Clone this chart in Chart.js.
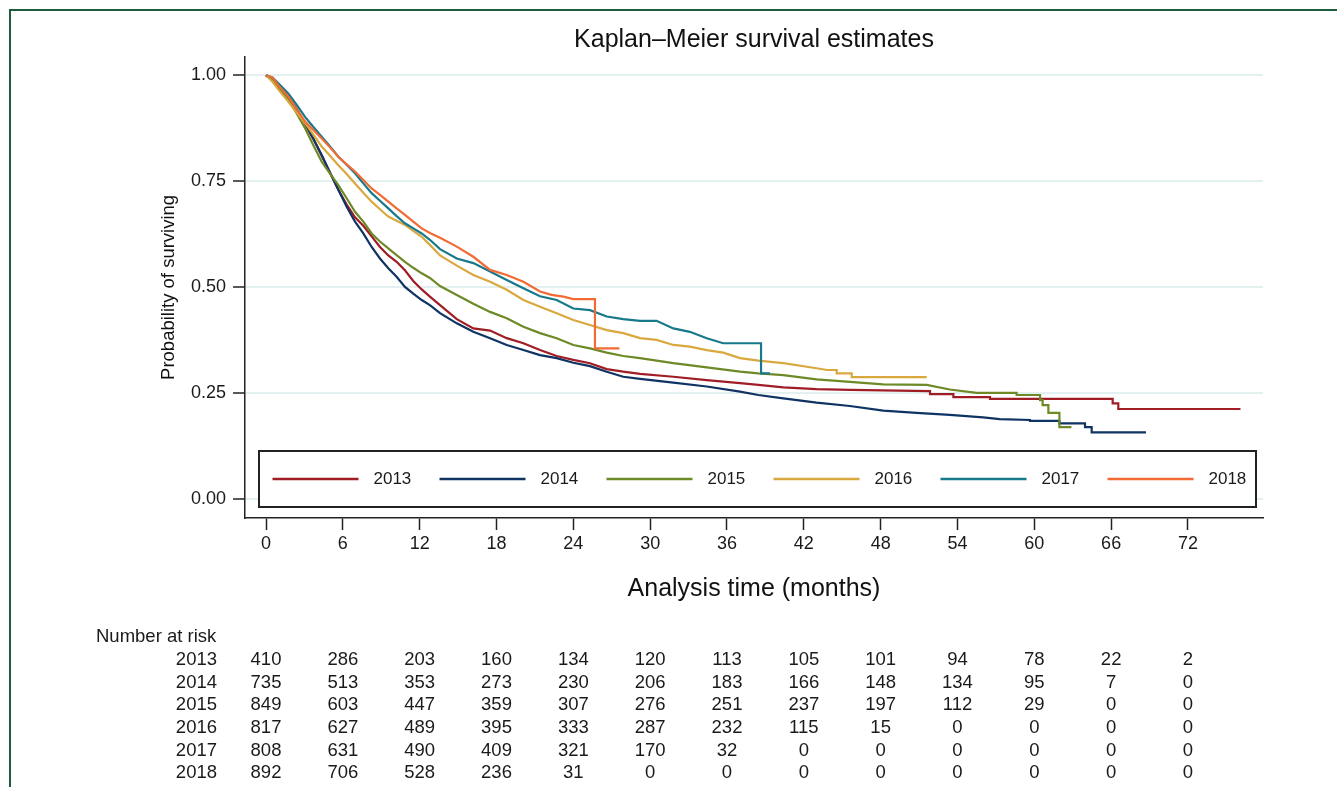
<!DOCTYPE html>
<html>
<head>
<meta charset="utf-8">
<script src="https://cdn.jsdelivr.net/npm/chart.js@4.4.1/dist/chart.umd.min.js"></script>
<style>
html,body{margin:0;padding:0;background:#fff;}
#wrap{position:relative;width:1337px;height:787px;overflow:hidden;}
#frame{position:absolute;left:9px;top:9px;width:1340px;height:800px;border-top:2px solid #1d5c3c;border-left:2px solid #1d5c3c;pointer-events:none;}
canvas{position:absolute;left:0;top:0;}
</style>
</head>
<body>
<div id="wrap"><canvas id="c" width="1337" height="787"></canvas><div id="frame"></div></div>
<script>
// ---- data ----
const years = ['2013', '2014', '2015', '2016', '2017', '2018'];
const xTicks = [0, 6, 12, 18, 24, 30, 36, 42, 48, 54, 60, 66, 72];
const yTicks = [0, 0.25, 0.5, 0.75, 1];

const km2013 = [[0,1],[0.5,0.99],[1,0.975],[1.74,0.95],[2.4,0.92],[3.05,0.885],[3.7,0.85],[4.35,0.81],[5,0.77],[5.65,0.73],[6.3,0.695],[6.95,0.665],[7.6,0.645],[8.25,0.62],[8.9,0.595],[9.55,0.575],[10.2,0.56],[10.85,0.54],[11.5,0.515],[12.16,0.495],[12.8,0.478],[13.59,0.458],[14.9,0.425],[16.19,0.403],[17.5,0.398],[18.8,0.38],[20.1,0.368],[21.4,0.352],[22.7,0.338],[24,0.329],[25.3,0.321],[26.61,0.307],[27.9,0.301],[29.21,0.296],[31.81,0.289],[34.42,0.281],[37.02,0.274],[38.45,0.27],[40.4,0.264],[43,0.26],[45.6,0.258],[51.86,0.255],[51.86,0.248],[53.68,0.248],[53.68,0.241],[56.54,0.241],[56.54,0.237],[66.12,0.237],[66.12,0.226],[66.56,0.226],[66.56,0.213],[76.1,0.213]];
const km2014 = [[0,1],[0.5,0.99],[1,0.975],[1.74,0.95],[2.4,0.92],[3.05,0.887],[3.7,0.85],[4.35,0.812],[5,0.77],[5.65,0.73],[6.3,0.69],[6.95,0.655],[7.6,0.627],[8.25,0.595],[8.9,0.568],[9.55,0.545],[10.2,0.525],[10.85,0.501],[11.5,0.485],[12.16,0.47],[12.8,0.458],[13.59,0.439],[14.9,0.415],[16.19,0.395],[17.5,0.38],[18.8,0.364],[20.1,0.352],[21.4,0.34],[22.7,0.333],[24,0.322],[25.3,0.314],[26.61,0.301],[27.9,0.289],[29.21,0.284],[31.81,0.275],[34.42,0.266],[37.02,0.254],[38.45,0.246],[40.4,0.238],[43,0.228],[45.6,0.22],[48.2,0.209],[50.8,0.204],[53.4,0.199],[56,0.193],[57.3,0.189],[59.66,0.187],[59.66,0.185],[61.96,0.185],[61.96,0.179],[63.96,0.179],[63.96,0.17],[64.48,0.17],[64.48,0.158],[68.72,0.158]];
const km2015 = [[0,1],[0.5,0.99],[1,0.97],[1.74,0.942],[2.4,0.91],[3.05,0.875],[3.7,0.835],[4.35,0.796],[5,0.768],[5.65,0.741],[6.3,0.71],[6.95,0.678],[7.6,0.655],[8.25,0.627],[8.9,0.608],[9.55,0.592],[10.2,0.576],[10.85,0.56],[11.5,0.546],[12.16,0.533],[12.8,0.522],[13.59,0.503],[14.9,0.482],[16.19,0.461],[17.5,0.442],[18.8,0.427],[20.1,0.407],[21.4,0.392],[22.7,0.38],[24,0.364],[25.3,0.356],[26.61,0.346],[27.9,0.338],[29.21,0.333],[31.81,0.321],[34.42,0.311],[37.02,0.301],[38.45,0.297],[40.4,0.293],[43,0.283],[45.6,0.277],[48.2,0.271],[51.6,0.27],[53.4,0.259],[55.5,0.251],[58.62,0.251],[58.62,0.246],[60.45,0.246],[60.45,0.234],[60.65,0.234],[60.65,0.222],[61.1,0.222],[61.1,0.204],[61.96,0.204],[61.96,0.17],[62.9,0.17]];
const km2016 = [[0,1],[0.5,0.985],[1,0.965],[1.74,0.938],[2.4,0.912],[3.05,0.887],[3.7,0.86],[4.35,0.832],[5,0.81],[5.65,0.788],[6.3,0.767],[6.95,0.745],[7.6,0.723],[8.25,0.702],[8.9,0.684],[9.55,0.667],[10.2,0.657],[10.85,0.647],[11.5,0.633],[12.16,0.619],[12.8,0.6],[13.59,0.575],[14.9,0.551],[16.19,0.529],[17.5,0.513],[18.8,0.494],[20.1,0.47],[21.4,0.454],[22.7,0.439],[24,0.423],[25.3,0.411],[26.61,0.399],[27.9,0.392],[29.21,0.38],[30.5,0.376],[31.81,0.364],[33.1,0.36],[34.42,0.352],[35.7,0.346],[37.02,0.333],[38.45,0.327],[40.4,0.321],[43,0.309],[43.8,0.305],[44.57,0.305],[44.57,0.297],[45.74,0.297],[45.74,0.288],[51.6,0.288]];
const km2017 = [[0,1],[0.5,0.995],[1,0.98],[1.74,0.957],[2.4,0.93],[3.05,0.902],[3.7,0.878],[4.35,0.855],[5,0.832],[5.65,0.808],[6.3,0.789],[6.95,0.769],[7.6,0.745],[8.25,0.722],[8.9,0.704],[9.55,0.686],[10.2,0.668],[10.85,0.651],[11.5,0.639],[12.16,0.627],[12.8,0.612],[13.59,0.59],[14.9,0.568],[16.19,0.557],[17.5,0.537],[18.8,0.517],[20.1,0.498],[21.4,0.479],[22.7,0.47],[24,0.45],[25.3,0.446],[26.61,0.431],[27.9,0.425],[29.21,0.421],[30.5,0.421],[31.81,0.403],[33.1,0.395],[34.42,0.38],[35.7,0.368],[38.66,0.368],[38.66,0.297],[39.36,0.297]];
const km2018 = [[0,1],[0.5,0.995],[1,0.975],[1.74,0.95],[2.4,0.92],[3.05,0.891],[3.7,0.871],[4.35,0.851],[5,0.83],[5.65,0.808],[6.3,0.79],[6.95,0.773],[7.6,0.753],[8.25,0.733],[8.9,0.718],[9.55,0.702],[10.2,0.686],[10.85,0.671],[11.5,0.655],[12.16,0.639],[12.8,0.628],[13.59,0.617],[14.9,0.596],[16.19,0.572],[17.5,0.541],[18.8,0.529],[20.1,0.513],[21.4,0.49],[22.3,0.482],[23.22,0.478],[24,0.472],[25.69,0.472],[25.69,0.356],[27.6,0.356]];

const risk2013 = [410, 286, 203, 160, 134, 120, 113, 105, 101, 94, 78, 22, 2];
const risk2014 = [735, 513, 353, 273, 230, 206, 183, 166, 148, 134, 95, 7, 0];
const risk2015 = [849, 603, 447, 359, 307, 276, 251, 237, 197, 112, 29, 0, 0];
const risk2016 = [817, 627, 489, 395, 333, 287, 232, 115, 15, 0, 0, 0, 0];
const risk2017 = [808, 631, 490, 409, 321, 170, 32, 0, 0, 0, 0, 0, 0];
const risk2018 = [892, 706, 528, 236, 31, 0, 0, 0, 0, 0, 0, 0, 0];

const curves = [km2013, km2014, km2015, km2016, km2017, km2018];
const risks = [risk2013, risk2014, risk2015, risk2016, risk2017, risk2018];

// ---- styles ----
const lineColors = ['#a01d26', '#0f3363', '#6d8a27', '#d9a83e', '#17798a', '#f26b35'];
const FONT = "'Liberation Sans', Arial, sans-serif";
const INK = '#1a1a1a';

Chart.defaults.font.family = FONT;
Chart.defaults.color = INK;

const overlay = {
  id: 'overlay',
  afterDatasetsDraw(chart) {
    const ctx = chart.ctx;
    const area = chart.chartArea;
    const xs = chart.scales.x;
    ctx.save();
    // legend box inside the plot
    const bx = area.left + 14, by = 451, bw = area.right - 7 - bx, bh = 56;
    ctx.fillStyle = '#fff';
    ctx.fillRect(bx, by, bw, bh);
    ctx.strokeStyle = '#222';
    ctx.lineWidth = 2;
    ctx.strokeRect(bx, by, bw, bh);
    ctx.font = '17px ' + FONT;
    ctx.textBaseline = 'middle';
    ctx.textAlign = 'left';
    chart.data.datasets.forEach((ds, i) => {
      const x0 = bx + 13.5 + 167 * i;
      const y0 = by + bh / 2;
      ctx.strokeStyle = ds.borderColor;
      ctx.lineWidth = 2.5;
      ctx.beginPath();
      ctx.moveTo(x0, y0);
      ctx.lineTo(x0 + 86, y0);
      ctx.stroke();
      ctx.fillStyle = INK;
      ctx.fillText(ds.label, x0 + 101, y0 + 0.5);
    });
    // number at risk table
    ctx.font = '18.5px ' + FONT;
    ctx.fillStyle = INK;
    ctx.textAlign = 'left';
    ctx.fillText('Number at risk', 96, 637);
    years.forEach((yr, r) => {
      const yy = 660 + 22.67 * r;
      ctx.textAlign = 'right';
      ctx.fillText(yr, 217, yy);
      ctx.textAlign = 'center';
      risks[r].forEach((n, j) => {
        ctx.fillText(String(n), xs.getPixelForValue(xTicks[j]), yy);
      });
    });
    ctx.restore();
  }
};

new Chart(document.getElementById('c'), {
  type: 'line',
  data: {
    datasets: years.map((yr, i) => ({
      label: yr,
      data: curves[i].map(p => ({ x: p[0], y: p[1] })),
      borderColor: lineColors[i],
      backgroundColor: lineColors[i],
      borderWidth: 2.2,
      pointRadius: 0,
      tension: 0,
      fill: false,
      order: years.length - i
    }))
  },
  options: {
    responsive: false,
    animation: false,
    events: [],
    layout: { padding: { top: 10, left: 140, right: 74, bottom: 179.6 } },
    plugins: {
      legend: { display: false },
      tooltip: { enabled: false },
      title: {
        display: true,
        fullSize: false,
        text: 'Kaplan\u2013Meier survival estimates',
        color: '#111',
        font: { size: 25, weight: 'normal' },
        padding: { top: 15, bottom: 1.8 }
      }
    },
    scales: {
      x: {
        type: 'linear',
        min: -1.64,
        max: 77.86,
        afterBuildTicks: s => { s.ticks = xTicks.map(v => ({ value: v })); },
        afterFit: s => { s.height = 89.4; },
        ticks: { autoSkip: false, maxRotation: 0, padding: 3, color: INK, font: { size: 18 }, callback: v => String(v) },
        grid: { drawOnChartArea: false, drawTicks: true, tickLength: 12, tickColor: '#222', tickWidth: 1.5 },
        border: { display: true, color: '#222', width: 1.5 },
        title: { display: true, text: 'Analysis time (months)', color: '#111', font: { size: 25 }, padding: { top: 0, bottom: 3.4 } }
      },
      y: {
        type: 'linear',
        min: -0.0441,
        max: 1.0436,
        afterBuildTicks: s => { s.ticks = yTicks.map(v => ({ value: v })); },
        afterFit: s => { s.width = 105; },
        ticks: { padding: 7, color: INK, font: { size: 18 }, callback: v => v.toFixed(2) },
        grid: { color: '#e3f0f0', lineWidth: 2, drawTicks: true, tickLength: 12, tickColor: '#222', tickWidth: 1.5 },
        border: { display: true, color: '#222', width: 1.5 },
        title: { display: true, text: 'Probability of surviving', color: '#111', font: { size: 18.5 }, padding: { top: 17.4, bottom: 0 } }
      }
    }
  },
  plugins: [overlay]
});
</script>
</body>
</html>
